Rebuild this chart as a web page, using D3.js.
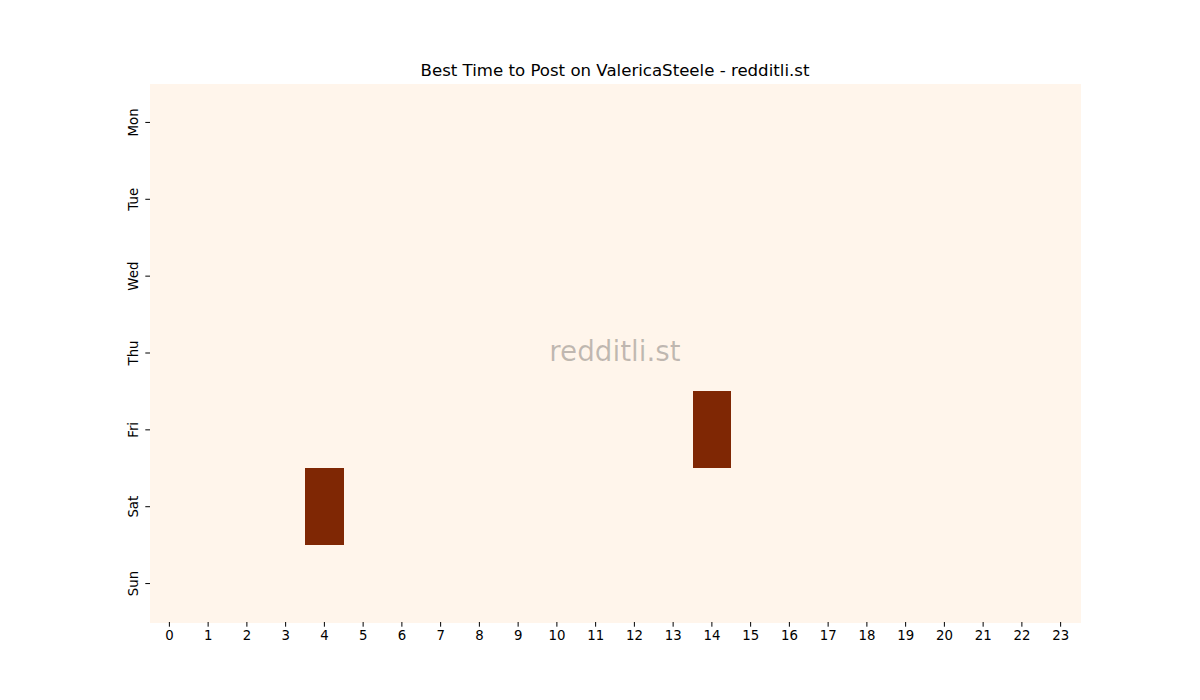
<!DOCTYPE html>
<html>
<head>
<meta charset="utf-8">
<script src="https://cdn.jsdelivr.net/npm/d3@7"></script>
<style>
  body { margin: 0; background: #fff; }
  svg { font-family: "DejaVu Sans", sans-serif; }
</style>
</head>
<body>
<svg width="1200" height="700"></svg>
<script>
const days = ['Mon', 'Tue', 'Wed', 'Thu', 'Fri', 'Sat', 'Sun'];
const hours = d3.range(24);
// posts per day (rows) x hour (cols); only two non-zero cells
const monVals = [0,0,0,0,0,0,0,0,0,0,0,0,0,0,0,0,0,0,0,0,0,0,0,0];
const tueVals = [0,0,0,0,0,0,0,0,0,0,0,0,0,0,0,0,0,0,0,0,0,0,0,0];
const wedVals = [0,0,0,0,0,0,0,0,0,0,0,0,0,0,0,0,0,0,0,0,0,0,0,0];
const thuVals = [0,0,0,0,0,0,0,0,0,0,0,0,0,0,0,0,0,0,0,0,0,0,0,0];
const friVals = [0,0,0,0,0,0,0,0,0,0,0,0,0,0,1,0,0,0,0,0,0,0,0,0];
const satVals = [0,0,0,0,1,0,0,0,0,0,0,0,0,0,0,0,0,0,0,0,0,0,0,0];
const sunVals = [0,0,0,0,0,0,0,0,0,0,0,0,0,0,0,0,0,0,0,0,0,0,0,0];
const rows = [monVals, tueVals, wedVals, thuVals, friVals, satVals, sunVals];

const mLeft = 150, mRight = 1080, mTop = 84, mBottom = 622;

const $svg = d3.select('svg');

const x = d3.scaleBand().domain(hours).range([mLeft, mRight]);
const y = d3.scaleBand().domain(days).range([mTop, mBottom]);
const color = d3.scaleSequential(d3.interpolateOranges)
  .domain([0, d3.max(rows, r => d3.max(r))]);

const cells = [];
rows.forEach((r, i) => r.forEach((v, h) => cells.push({day: days[i], hour: h, v: v})));

$svg.append('g').selectAll('rect')
  .data(cells)
  .enter()
  .append('rect')
    .attr('x', d => x(d.hour))
    .attr('y', d => y(d.day))
    .attr('width', x.bandwidth() + 0.5)
    .attr('height', y.bandwidth() + 0.5)
    .attr('fill', d => color(d.v))
    .attr('shape-rendering', 'crispEdges');

// watermark
$svg.append('text')
  .attr('x', (mLeft + mRight) / 2)
  .attr('y', (mTop + mBottom) / 2)
  .attr('text-anchor', 'middle')
  .attr('dominant-baseline', 'middle')
  .attr('font-size', 27.8)
  .attr('fill', '#000')
  .attr('fill-opacity', 0.25)
  .text('redditli.st');

const xAxis = $svg.append('g')
  .attr('transform', `translate(0,${mBottom})`)
  .call(d3.axisBottom(x).tickSize(4.7).tickPadding(4));
const yAxis = $svg.append('g')
  .attr('transform', `translate(${mLeft},0)`)
  .call(d3.axisLeft(y).tickSize(4.7).tickPadding(4));

[xAxis, yAxis].forEach(a => {
  a.select('.domain').remove();
  a.selectAll('text').attr('font-size', 13.3).attr('font-family', '"DejaVu Sans", sans-serif').attr('fill', '#000');
  a.selectAll('line').attr('stroke', '#000').attr('stroke-width', 1);
});

yAxis.selectAll('.tick text')
  .attr('text-anchor', 'middle')
  .attr('dy', null)
  .attr('dominant-baseline', 'auto')
  .attr('transform', 'rotate(-90)')
  .attr('x', 0)
  .attr('y', -12);

$svg.append('text')
  .attr('x', (mLeft + mRight) / 2)
  .attr('y', 76)
  .attr('text-anchor', 'middle')
  .attr('font-size', 16.6)
  .attr('fill', '#000')
  .text('Best Time to Post on ValericaSteele - redditli.st');
</script>
</body>
</html>
